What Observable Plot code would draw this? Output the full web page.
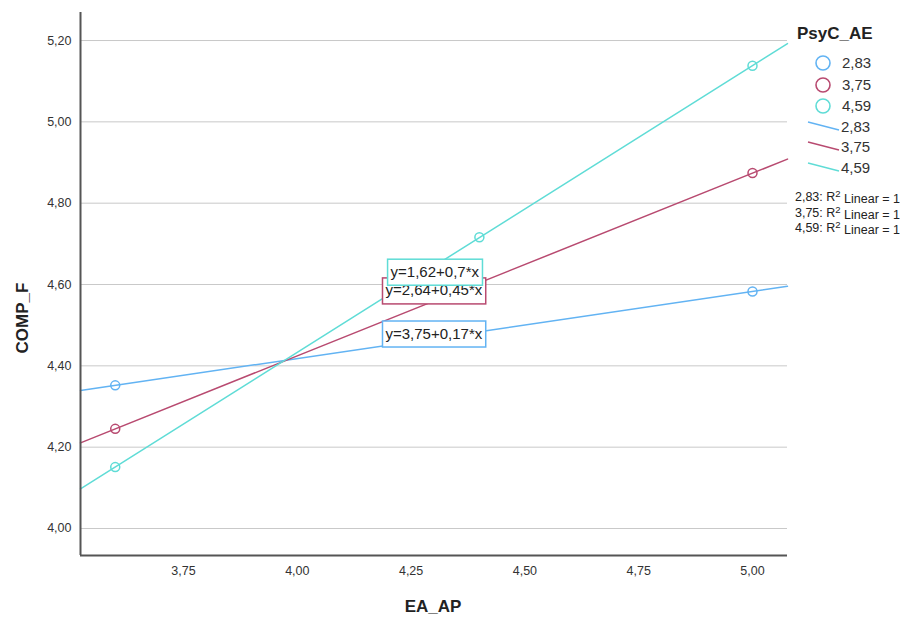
<!DOCTYPE html>
<html>
<head>
<meta charset="utf-8">
<script src="https://cdn.jsdelivr.net/npm/d3@7"></script>
<script src="https://cdn.jsdelivr.net/npm/@observablehq/plot@0.6"></script>
<style>
  html, body { margin: 0; padding: 0; background: #fff; }
  #chart { width: 901px; height: 620px; }
</style>
</head>
<body>
<div id="chart"></div>
<script>
// ---- data ----
const groups = ["2,83", "3,75", "4,59"];
const groupColors = ["#62b3f3", "#b84a70", "#5fdcd6"];
const xValues = [3.6, 4.4, 5.0];
const compF_283 = [4.352, 4.484, 4.583];
const compF_375 = [4.245, 4.604, 4.874];
const compF_459 = [4.151, 4.716, 5.138];
const equations = ["y=3,75+0,17*x", "y=2,64+0,45*x", "y=1,62+0,7*x"];
const eqLabelX = [4.300, 4.300, 4.302];
const eqLabelY = [4.479, 4.585, 4.631];
const xTicks = [3.75, 4.00, 4.25, 4.50, 4.75, 5.00];
const yTicks = [4.00, 4.20, 4.40, 4.60, 4.80, 5.00, 5.20];
const xDomain = [3.5237, 5.0769];
const yDomain = [3.9336, 5.2689];
const rSquared = ["2,83: R² Linear = 1", "3,75: R² Linear = 1", "4,59: R² Linear = 1"];

// ---- build tables ----
const series = [compF_283, compF_375, compF_459];
const points = [];
series.forEach((vals, gi) => vals.forEach((v, i) => points.push({group: groups[gi], x: xValues[i], y: v})));

// least-squares fit lines extended across the x domain
const fitLines = [];
series.forEach((vals, gi) => {
  const mx = d3.mean(xValues), my = d3.mean(vals);
  const sxy = d3.sum(xValues, (x, i) => (x - mx) * (vals[i] - my));
  const sxx = d3.sum(xValues, x => (x - mx) ** 2);
  const b = sxy / sxx, a = my - b * mx;
  xDomain.forEach(x => fitLines.push({group: groups[gi], x, y: a + b * x}));
});

const labels = groups.map((g, i) => ({group: g, text: equations[i], x: eqLabelX[i], y: eqLabelY[i]}));

const fmt = d => d.toFixed(2).replace(".", ",");
const font = "'Liberation Sans', Arial, sans-serif";

const plot = Plot.plot({
  width: 901,
  height: 620,
  marginLeft: 80,
  marginRight: 114,
  marginTop: 12,
  marginBottom: 65,
  style: {fontFamily: font, background: "#fff", overflow: "visible"},
  x: {domain: xDomain},
  y: {domain: yDomain},
  color: {domain: groups, range: groupColors},
  marks: [
    Plot.gridY(yTicks, {stroke: "#c9c9c9", strokeOpacity: 1, strokeWidth: 1}),
    Plot.axisY(yTicks, {tickSize: 0, tickPadding: 9, tickFormat: fmt, fontSize: 12.5, fill: "#333", label: null}),
    Plot.axisX(xTicks, {tickSize: 0, tickPadding: 11, tickFormat: fmt, fontSize: 12.5, fill: "#333", label: null}),
    Plot.line(fitLines, {x: "x", y: "y", z: "group", stroke: "group", strokeWidth: 1.5}),
    Plot.dot(points, {x: "x", y: "y", r: 4.5, stroke: "group", strokeWidth: 1.5, fill: "none"}),
    Plot.ruleX([xDomain[0]], {stroke: "#555", strokeWidth: 2}),
    Plot.ruleY([yDomain[0]], {stroke: "#555", strokeWidth: 2}),
    Plot.text(labels, {x: "x", y: "y", text: "text", fontSize: 15, fill: "#222", className: "eqlab"})
  ]
});

document.getElementById("chart").appendChild(plot);

// boxes behind equation labels
const svg = d3.select(plot);
svg.selectAll("g.eqlab text").each(function(d, i) {
  const bb = this.getBBox();
  const w = bb.width + 6, h = 26;
  const cx = bb.x + bb.width / 2, cy = bb.y + bb.height / 2 + 1;
  const rect = document.createElementNS("http://www.w3.org/2000/svg", "rect");
  rect.setAttribute("x", cx - w / 2);
  rect.setAttribute("y", cy - h / 2);
  rect.setAttribute("width", w);
  rect.setAttribute("height", h);
  const tr = this.getAttribute("transform");
  if (tr) rect.setAttribute("transform", tr);
  rect.setAttribute("fill", "#fff");
  rect.setAttribute("stroke", groupColors[i]);
  rect.setAttribute("stroke-width", 1.5);
  this.parentNode.insertBefore(rect, this);
});

// axis titles
svg.append("text").attr("x", 433).attr("y", 612).attr("text-anchor", "middle")
  .attr("font-family", font).attr("font-size", 17).attr("font-weight", "bold").attr("fill", "#222")
  .text("EA_AP");
svg.append("text").attr("transform", "translate(28,318) rotate(-90)").attr("text-anchor", "middle")
  .attr("font-family", font).attr("font-size", 17).attr("font-weight", "bold").attr("fill", "#222")
  .text("COMP_F");

// legend
const lg = svg.append("g").attr("font-family", font).attr("text-anchor", "start");
lg.append("text").attr("x", 797).attr("y", 39).attr("text-anchor", "start").attr("font-size", 17).attr("font-weight", "bold").attr("fill", "#222").text("PsyC_AE");
const circY = [63, 85, 106];
groups.forEach((g, i) => {
  lg.append("circle").attr("cx", 823).attr("cy", circY[i]).attr("r", 7)
    .attr("fill", "none").attr("stroke", groupColors[i]).attr("stroke-width", 1.6);
  lg.append("text").attr("x", 842).attr("y", circY[i]).attr("dy", "0.35em").attr("text-anchor", "start")
    .attr("font-size", 15).attr("fill", "#333").text(g);
});
const lineY = [127, 147, 168];
groups.forEach((g, i) => {
  lg.append("line").attr("x1", 808).attr("y1", lineY[i] - 5).attr("x2", 839).attr("y2", lineY[i] + 3)
    .attr("stroke", groupColors[i]).attr("stroke-width", 1.5);
  lg.append("text").attr("x", 841).attr("y", lineY[i]).attr("dy", "0.35em").attr("text-anchor", "start")
    .attr("font-size", 15).attr("fill", "#333").text(g);
});
const rY = [197, 213, 228];
rSquared.forEach((s, i) => {
  const t = lg.append("text").attr("x", 900).attr("y", rY[i]).attr("dy", "0.35em")
    .attr("text-anchor", "end").attr("font-size", 12.5).attr("fill", "#222");
  const parts = s.split("²");
  t.append("tspan").text(parts[0]);
  t.append("tspan").attr("font-size", 9.5).attr("dy", "-0.5em").text("2");
  t.append("tspan").attr("dy", "0.5em").text(parts[1]);
});
</script>
</body>
</html>
